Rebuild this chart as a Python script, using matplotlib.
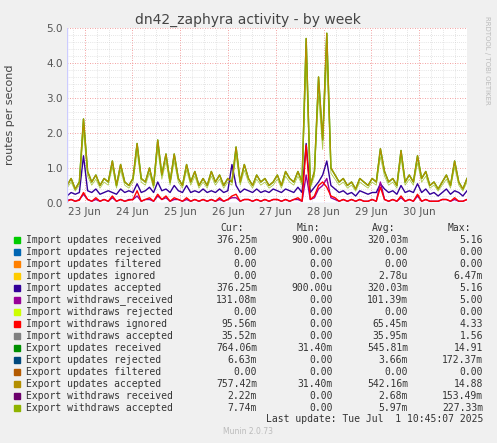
import numpy as np
import matplotlib.pyplot as plt
from matplotlib.ticker import MultipleLocator

# ---- data ----
olive = [0.5, 0.7, 0.4, 0.6, 2.4,
         0.9, 0.6, 0.8, 0.5, 0.7, 0.6, 1.2, 0.5, 1.1, 0.6, 0.5, 0.7,
         1.7, 0.7, 0.6, 1.0, 0.5, 1.8, 0.8, 1.4, 0.6, 1.4, 0.7, 0.5,
         1.1, 0.6, 0.9, 0.5, 0.7, 0.5, 0.9, 0.6, 0.8, 0.5, 0.7, 0.6,
         1.6, 0.6, 1.1, 0.7, 0.5, 0.8, 0.6, 0.7, 0.5, 0.6, 0.8, 0.5,
         0.9, 0.7, 0.6, 0.9, 0.6, 4.7, 0.5, 0.9, 3.6, 1.8, 4.85, 1.0,
         0.8, 0.6, 0.7, 0.5, 0.6, 0.4, 0.7, 0.6, 0.5, 0.7, 0.6, 1.55,
         0.9, 0.6, 0.7, 0.5, 1.5, 0.6, 0.8, 0.6, 1.35, 0.7, 0.9, 0.5,
         0.6, 0.4, 0.6, 0.8, 0.5, 1.2, 0.6, 0.4, 0.7]
blue = [0.2, 0.3, 0.25, 0.3, 1.35,
        0.35, 0.3, 0.4, 0.25, 0.3, 0.35, 0.3, 0.25, 0.4, 0.3, 0.35, 0.3,
        0.55, 0.3, 0.35, 0.45, 0.3, 0.6, 0.35, 0.4, 0.3, 0.5, 0.35, 0.3,
        0.5, 0.3, 0.35, 0.3, 0.4, 0.3, 0.35, 0.3, 0.4, 0.3, 0.35, 1.1,
        0.5, 0.3, 0.4, 0.35, 0.3, 0.4, 0.3, 0.35, 0.3, 0.4, 0.35, 0.3,
        0.4, 0.35, 0.3, 0.45, 0.3, 1.7, 0.3, 0.45, 0.6, 0.8, 1.2, 0.5,
        0.4, 0.3, 0.35, 0.25, 0.3, 0.2, 0.35, 0.3, 0.25, 0.3, 0.3, 0.55,
        0.4, 0.3, 0.35, 0.25, 0.5, 0.3, 0.35, 0.3, 0.55, 0.3, 0.4, 0.25,
        0.3, 0.2, 0.3, 0.4, 0.25, 0.35, 0.3, 0.2, 0.35]
red = [0.05, 0.1, 0.05, 0.08, 0.3,
       0.1, 0.05, 0.15, 0.05, 0.1, 0.05, 0.2, 0.05, 0.1, 0.05, 0.08, 0.1,
       0.35, 0.05, 0.1, 0.15, 0.05, 0.25, 0.1, 0.2, 0.05, 0.15, 0.1, 0.05,
       0.15, 0.05, 0.1, 0.05, 0.1, 0.05, 0.1, 0.05, 0.15, 0.05, 0.1, 0.2,
       0.25, 0.05, 0.1, 0.1, 0.05, 0.1, 0.05, 0.1, 0.05, 0.1, 0.1, 0.05,
       0.1, 0.05, 0.1, 0.15, 0.05, 1.65, 0.1, 0.2, 0.5, 0.6, 0.45, 0.2,
       0.15, 0.05, 0.1, 0.05, 0.1, 0.05, 0.1, 0.05, 0.05, 0.1, 0.05, 0.45,
       0.1, 0.05, 0.1, 0.05, 0.2, 0.05, 0.1, 0.05, 0.25, 0.05, 0.1, 0.05,
       0.05, 0.05, 0.1, 0.1, 0.05, 0.15, 0.05, 0.05, 0.1]
purple = [0.08, 0.1, 0.05, 0.1, 0.25,
          0.1, 0.05, 0.1, 0.05, 0.1, 0.05, 0.15, 0.05, 0.1, 0.05, 0.1, 0.1,
          0.2, 0.05, 0.1, 0.1, 0.05, 0.2, 0.1, 0.15, 0.05, 0.1, 0.1, 0.05,
          0.1, 0.05, 0.1, 0.05, 0.1, 0.05, 0.1, 0.05, 0.1, 0.05, 0.1, 0.15,
          0.15, 0.05, 0.1, 0.1, 0.05, 0.1, 0.05, 0.1, 0.05, 0.1, 0.1, 0.05,
          0.1, 0.05, 0.1, 0.1, 0.05, 0.8, 0.1, 0.15, 0.4, 0.5, 0.7, 0.15,
          0.1, 0.05, 0.1, 0.05, 0.1, 0.05, 0.1, 0.05, 0.05, 0.1, 0.05, 0.6,
          0.1, 0.05, 0.1, 0.05, 0.15, 0.05, 0.1, 0.05, 0.2, 0.05, 0.1, 0.05,
          0.05, 0.05, 0.1, 0.1, 0.05, 0.1, 0.05, 0.05, 0.1]
days = np.linspace(22.63, 31.0, len(olive))
day_ticks = [23, 24, 25, 26, 27, 28, 29, 30]
day_labels = ["23 Jun", "24 Jun", "25 Jun", "26 Jun", "27 Jun", "28 Jun", "29 Jun", "30 Jun"]

names = ["Import updates received", "Import updates rejected", "Import updates filtered",
         "Import updates ignored", "Import updates accepted", "Import withdraws_received",
         "Import withdraws rejected", "Import withdraws ignored", "Import withdraws accepted",
         "Export updates received", "Export updates rejected", "Export updates filtered",
         "Export updates accepted", "Export withdraws received", "Export withdraws accepted"]
colors = ["#00cc00", "#0066b3", "#ff8000", "#ffcc00", "#330099", "#990099", "#ccff00",
          "#ff0000", "#808080", "#008f00", "#00487d", "#b35a00", "#b38f00", "#6b006b", "#8fb300"]
cur = ["376.25m", "0.00", "0.00", "0.00", "376.25m", "131.08m", "0.00", "95.56m", "35.52m",
       "764.06m", "6.63m", "0.00", "757.42m", "2.22m", "7.74m"]
mins = ["900.00u", "0.00", "0.00", "0.00", "900.00u", "0.00", "0.00", "0.00", "0.00",
        "31.40m", "0.00", "0.00", "31.40m", "0.00", "0.00"]
avg = ["320.03m", "0.00", "0.00", "2.78u", "320.03m", "101.39m", "0.00", "65.45m", "35.95m",
       "545.81m", "3.66m", "0.00", "542.16m", "2.68m", "5.97m"]
mx = ["5.16", "0.00", "0.00", "6.47m", "5.16", "5.00", "0.00", "4.33", "1.56",
      "14.91", "172.37m", "0.00", "14.88", "153.49m", "227.33m"]

W, H = 497, 443
fig = plt.figure(figsize=(W / 100, H / 100), dpi=100, facecolor="#f0f0f0")
ax = fig.add_axes([67 / W, (H - 203) / H, 400 / W, 175 / H], facecolor="white")

ax.plot(days, olive, color="#00cc00", lw=1)          # import updates received (under)
ax.plot(days, blue, color="#330099", lw=1)
ax.plot(days, purple, color="#990099", lw=1)
ax.plot(days, red, color="#ff0000", lw=1)
ax.plot(days, olive, color="#b38f00", lw=1)
ax.plot(days, [v * 0.85 for v in olive], color="#8fb300", lw=0.6, alpha=0.7)

ax.set_xlim(22.63, 31.0)
ax.set_ylim(0, 5.0)
ax.yaxis.set_major_locator(MultipleLocator(1.0))
ax.yaxis.set_minor_locator(MultipleLocator(0.2))
ax.set_yticks([0, 1, 2, 3, 4, 5], ["0.0", "1.0", "2.0", "3.0", "4.0", "5.0"])
ax.set_xticks(day_ticks, day_labels)
ax.xaxis.set_minor_locator(MultipleLocator(0.25))
ax.grid(which="minor", color="#cccccc", ls=(0, (1, 2)), lw=0.5)
ax.grid(which="major", color="#f08080", ls=(0, (1, 2)), lw=0.6)
ax.set_axisbelow(True)
ax.tick_params(which="both", length=0, labelsize=7.5, colors="#555555", pad=3)
for s in ax.spines.values():
    s.set_visible(False)
ax.axhline(0, color="#ccccff", lw=1)
ax.axvline(22.63, color="#ccccff", lw=1)

fig.text(248 / W, 1 - 20 / H, "dn42_zaphyra activity - by week", ha="center", va="center",
         fontsize=10, color="#444444")
fig.text(10 / W, 1 - 115 / H, "routes per second", rotation=90, ha="center", va="center",
         fontsize=8, color="#444444")
fig.text(487 / W, 1 - 60 / H, "RRDTOOL / TOBI OETIKER", rotation=270, ha="center", va="center",
         fontsize=5, color="#bbbbbb")

mono = dict(family="DejaVu Sans Mono", fontsize=7, color="#333333", va="center")
cols_x = [257, 333, 408, 483]
for x, t in zip([244, 320, 395, 471], ["Cur:", "Min:", "Avg:", "Max:"]):
    fig.text(x / W, 1 - 228 / H, t, ha="right", **mono)
for i, n in enumerate(names):
    y = 1 - (240 + i * 12) / H
    fig.patches.append(plt.Rectangle((14 / W, y - 3 / H), 6 / W, 6 / H, color=colors[i],
                                     transform=fig.transFigure, figure=fig))
    fig.text(26 / W, y, n, ha="left", **mono)
    for x, v in zip(cols_x, [cur[i], mins[i], avg[i], mx[i]]):
        fig.text(x / W, y, v, ha="right", **mono)
fig.text(483 / W, 1 - 419 / H, "Last update: Tue Jul  1 10:45:07 2025", ha="right", **mono)
fig.text(248 / W, 1 - 432 / H, "Munin 2.0.73", ha="center", va="center", fontsize=5.5,
         color="#bbbbbb")

fig.savefig("out.png", dpi=100, facecolor=fig.get_facecolor())
